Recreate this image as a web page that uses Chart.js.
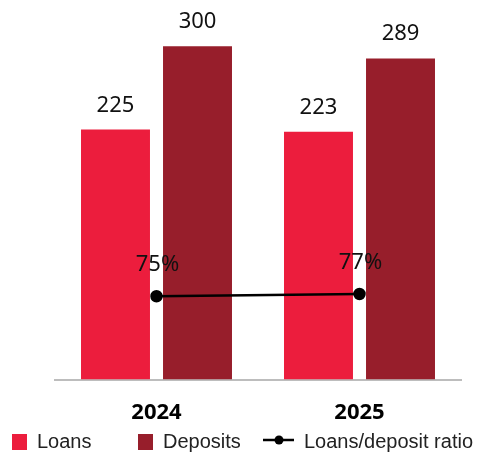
<!doctype html>
<html>

<head>
    <title>Loans and deposits</title>
    <script src="https://cdn.jsdelivr.net/npm/chart.js"></script>
    <style>
        body { margin: 0; background: #fff; }
        #wrap { width: 482px; height: 452px; position: relative; }
    </style>
</head>

<body>
    <div id="wrap">
        <canvas id="grafico"></canvas>
    </div>

    <script>
        var anos = ['2024', '2025'];
        var emprestimos = [225, 223];
        var depositos = [300, 289];
        var razao = [75, 77];

        var corEmprestimos = '#EC1D3D';
        var corDepositos = '#971E2B';

        // valores em cima das barras e percentuais em cima dos pontos
        var rotulos = {
            id: 'rotulos',
            afterDatasetsDraw(chart) {
                var ctx = chart.ctx;
                ctx.save();
                ctx.font = '22px "Noto Sans"';
                ctx.fillStyle = '#111';
                ctx.textAlign = 'center';
                ctx.textBaseline = 'alphabetic';
                chart.data.datasets.forEach((ds, i) => {
                    var meta = chart.getDatasetMeta(i);
                    meta.data.forEach((el, j) => {
                        if (ds.type == 'line') {
                            ctx.fillText(ds.data[j] + '%', el.x + 1, el.y - 25);
                        } else {
                            ctx.fillText(ds.data[j], el.x, el.y - 18);
                        }
                    });
                });
                ctx.restore();
            }
        };

        // legenda desenhada a mao, com espacamento proprio
        var legenda = {
            id: 'legenda',
            afterDraw(chart, args, opts) {
                var ctx = chart.ctx;
                ctx.save();
                ctx.font = '20px "Liberation Sans"';
                ctx.fillStyle = '#222';
                ctx.textBaseline = 'middle';
                ctx.textAlign = 'left';
                var y = opts.y;
                var ordem = [1, 2, 0];
                ordem.forEach((idx, k) => {
                    var ds = chart.data.datasets[idx];
                    var x = opts.xs[k];
                    if (ds.type == 'line') {
                        ctx.strokeStyle = ds.borderColor;
                        ctx.lineWidth = 2.5;
                        ctx.beginPath();
                        ctx.moveTo(x, y - 2);
                        ctx.lineTo(x + 31, y - 2);
                        ctx.stroke();
                        ctx.fillStyle = ds.pointBackgroundColor;
                        ctx.beginPath();
                        ctx.arc(x + 16, y - 2, 4.5, 0, Math.PI * 2);
                        ctx.fill();
                        ctx.fillStyle = '#222';
                        ctx.fillText(ds.label, x + 41, y);
                    } else {
                        ctx.fillStyle = ds.backgroundColor;
                        ctx.fillRect(x, y - 8, 15, 16);
                        ctx.fillStyle = '#222';
                        ctx.fillText(ds.label, x + 25, y);
                    }
                });
                ctx.restore();
            }
        };

        var grafico = new Chart(document.getElementById('grafico').getContext('2d'), {
            data: {
                labels: anos,
                datasets: [{
                    type: 'line',
                    label: 'Loans/deposit ratio',
                    data: razao,
                    borderColor: '#000',
                    borderWidth: 2.5,
                    pointBackgroundColor: '#000',
                    pointBorderColor: '#000',
                    pointRadius: 5,
                    order: 0
                }, {
                    type: 'bar',
                    label: 'Loans',
                    data: emprestimos,
                    backgroundColor: corEmprestimos,
                    categoryPercentage: 0.808,
                    barPercentage: 0.841,
                    order: 1
                }, {
                    type: 'bar',
                    label: 'Deposits',
                    data: depositos,
                    backgroundColor: corDepositos,
                    categoryPercentage: 0.808,
                    barPercentage: 0.841,
                    order: 1
                }]
            },
            options: {
                responsive: true,
                maintainAspectRatio: false,
                animation: false,
                layout: {
                    padding: { left: 55, right: 21, top: 24, bottom: 14 }
                },
                plugins: {
                    legend: { display: false },
                    tooltip: { enabled: false },
                    legenda: { xs: [12, 138, 263], y: 442 }
                },
                scales: {
                    x: {
                        grid: { display: false },
                        border: { display: true, color: '#BDBDBD', width: 2 },
                        ticks: {
                            color: '#000',
                            padding: 12,
                            font: { family: 'Noto Sans', size: 22, weight: 'bold' }
                        }
                    },
                    y: {
                        display: false,
                        min: 0,
                        max: 320
                    }
                }
            },
            plugins: [rotulos, legenda]
        });
    </script>
</body>

</html>
